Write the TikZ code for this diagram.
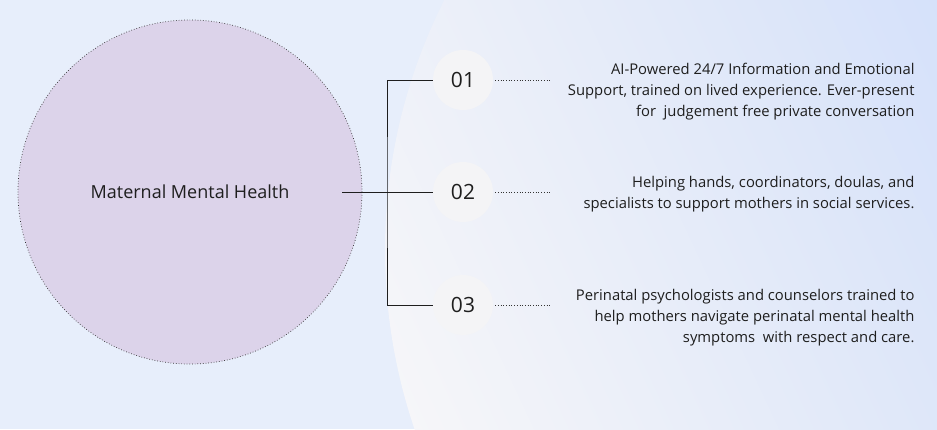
\documentclass[tikz,border=0pt]{standalone}
\usepackage{fontspec}
\setmainfont{Open Sans}
\usetikzlibrary{positioning}
\definecolor{bgleft}{HTML}{E7EEFB}
\definecolor{glowA}{HTML}{F6F6F9}
\definecolor{glowB}{HTML}{BFD3FA}
\definecolor{lavender}{HTML}{DCD3EA}
\definecolor{numfill}{HTML}{F4F4F6}
\definecolor{ink}{HTML}{1E1E1E}

\begin{document}
\begin{tikzpicture}[
  x=1pt, y=-1pt,
  hub/.style={
    circle,
    minimum size=344pt,
    fill=lavender,
    draw=black!80,
    dotted,
    line width=0.7pt,
    font=\fontsize{18}{22}\selectfont,
    text=ink,
  },
  num/.style={
    circle,
    minimum size=60pt,
    fill=numfill,
    font=\fontsize{21}{24}\selectfont,
    text=ink,
    inner sep=0pt,
  },
  desc/.style={
    font=\fontsize{14.8}{21}\selectfont,
    text=ink,
    align=right,
    anchor=east,
  },
  link/.style={
    line width=0.9pt,
    ink,
  },
  dots/.style={
    dotted,
    line width=0.7pt,
    black!80,
  },
]

% Background
\useasboundingbox (0,0) rectangle (937,429);
\fill[bgleft] (0,0) rectangle (937,429);
\begin{scope}
  \clip (0,0) rectangle (937,429);
  \shade[left color=glowA, right color=glowB, shading angle=115]
    (940,250) circle (555);
\end{scope}

% Nodes
\node[hub] (health) at (190,192) {Maternal Mental Health};

\node[num] (n1) at (463,80)  {01};
\node[num] (n2) at (463,192) {02};
\node[num] (n3) at (463,305) {03};

\coordinate (fork) at (387,192);
\coordinate (stem) at (342,192);

% Connectors
\draw[link] (stem) -- (n2);
\draw[link] (n1.west) -| (fork) |- (n3.west);

\coordinate (d1) at (550,80);
\coordinate (d2) at (550,192);
\coordinate (d3) at (550,305);
\draw[dots] (n1.east) ++(2,0) -- (d1);
\draw[dots] (n2.east) ++(2,0) -- (d2);
\draw[dots] (n3.east) ++(2,0) -- (d3);

% Descriptions
\node[desc] (t1) at (918,92)
  {AI-Powered 24/7 Information and Emotional\\Support, trained on lived experience. Ever-present\\for\ \ judgement free private conversation};
\node[desc] (t2) at (918,194)
  {Helping hands, coordinators, doulas, and\\specialists to support mothers in social services.};
\node[desc] (t3) at (918,318)
  {Perinatal psychologists and counselors trained to\\help mothers navigate perinatal mental health\\symptoms\ \ with respect and care.};

\end{tikzpicture}
\end{document}
